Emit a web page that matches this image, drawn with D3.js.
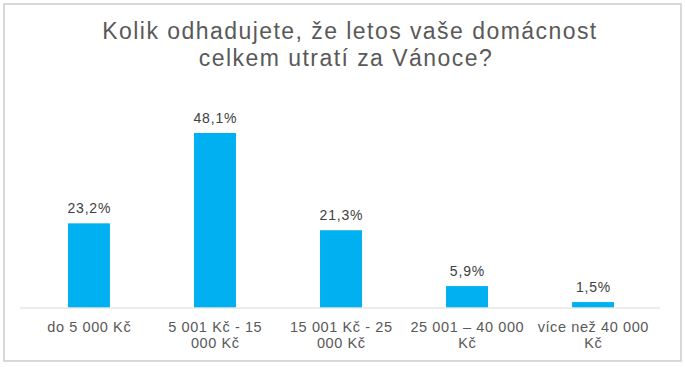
<!DOCTYPE html>
<html>
<head>
<meta charset="utf-8">
<script src="https://cdn.jsdelivr.net/npm/d3@7"></script>
<style>
  body { margin: 0; background: #fff; }
  text { font-family: "Liberation Sans", Arial, sans-serif; }
</style>
</head>
<body>
<script>
var titleLines = ["Kolik odhadujete, že letos vaše domácnost", "celkem utratí za Vánoce?"];
var categories = [
  ["do 5 000 Kč"],
  ["5 001 Kč - 15", "000 Kč"],
  ["15 001 Kč - 25", "000 Kč"],
  ["25 001 – 40 000", "Kč"],
  ["více než 40 000", "Kč"]
];
var values = [23.2, 48.1, 21.3, 5.9, 1.5];
var labels = ["23,2%", "48,1%", "21,3%", "5,9%", "1,5%"];

var W = 685, H = 367;
var svg = d3.select("body").append("svg").attr("width", W).attr("height", H);

// frame
svg.append("rect").attr("x", 4).attr("y", 4).attr("width", 677).attr("height", 357)
  .attr("fill", "#fff").attr("stroke", "#d9d9d9").attr("stroke-width", 2);

// title
svg.append("g").selectAll("text").data(titleLines).enter().append("text")
  .attr("x", function(d, i){ return i ? 346 : 350; })
  .attr("y", function(d, i){ return 39 + i * 27; })
  .attr("text-anchor", "middle").attr("font-size", 23).attr("letter-spacing", 1.45)
  .attr("fill", "#595959")
  .text(function(d){ return d; });

var x = d3.scaleBand().domain(d3.range(values.length)).range([26, 656]).paddingInner(0.667).paddingOuter(0.333);
var y = d3.scaleLinear().domain([0, 48.1]).range([307.5, 133]);

svg.append("g").selectAll("rect").data(values).enter().append("rect")
  .attr("x", function(d, i){ return x(i); })
  .attr("width", x.bandwidth())
  .attr("y", function(d){ return y(d); })
  .attr("height", function(d){ return y(0) - y(d); })
  .attr("fill", "#00b0f0");

// baseline
svg.append("line").attr("x1", 20).attr("x2", 660).attr("y1", 308).attr("y2", 308)
  .attr("stroke", "#d9d9d9").attr("stroke-width", 1);

// value labels
svg.append("g").selectAll("text").data(values).enter().append("text")
  .attr("x", function(d, i){ return x(i) + x.bandwidth() / 2 + 0.4; })
  .attr("y", function(d){ return y(d) - 10; })
  .attr("text-anchor", "middle").attr("font-size", 14).attr("letter-spacing", 0.8)
  .attr("fill", "#404040")
  .text(function(d, i){ return labels[i]; });

// category labels
var cat = svg.append("g").selectAll("text").data(categories).enter().append("text")
  .attr("text-anchor", "middle").attr("font-size", 14.5).attr("letter-spacing", 0.6)
  .attr("fill", "#595959");
cat.selectAll("tspan").data(function(d, i){ return d.map(function(s){ return {s: s, i: i}; }); })
  .enter().append("tspan")
  .attr("x", function(d){ return x(d.i) + x.bandwidth() / 2 + 0.3; })
  .attr("y", function(d, j){ return 332 + j * 16; })
  .text(function(d){ return d.s; });
</script>
</body>
</html>
